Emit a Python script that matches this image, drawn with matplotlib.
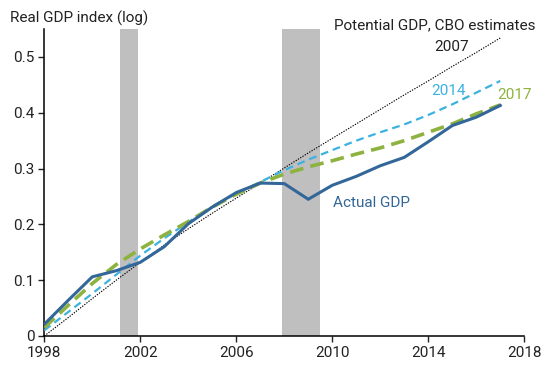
import matplotlib
matplotlib.use("Agg")
import matplotlib.pyplot as plt

plt.rcParams['font.family'] = ['Roboto', 'DejaVu Sans']

years = list(range(1998, 2018))
actual_gdp = [0.021, 0.064, 0.106, 0.117, 0.132, 0.160, 0.201, 0.231, 0.257, 0.274,
              0.273, 0.245, 0.270, 0.286, 0.305, 0.320, 0.348, 0.377, 0.392, 0.413]
cbo_2007 = [0.000, 0.033, 0.067, 0.100, 0.132, 0.163, 0.192, 0.220, 0.247, 0.274,
            0.301, 0.328, 0.354, 0.380, 0.406, 0.432, 0.457, 0.483, 0.508, 0.534]
cbo_2014 = [0.010, 0.043, 0.076, 0.110, 0.144, 0.175, 0.204, 0.231, 0.255, 0.276,
            0.297, 0.316, 0.333, 0.350, 0.365, 0.379, 0.396, 0.415, 0.436, 0.457]
cbo_2017 = [0.015, 0.055, 0.094, 0.128, 0.156, 0.181, 0.205, 0.231, 0.254, 0.274,
            0.290, 0.303, 0.314, 0.326, 0.337, 0.350, 0.365, 0.380, 0.398, 0.414]
recessions = [(2001.17, 2001.9), (2007.92, 2009.5)]
x_ticks = [1998, 2002, 2006, 2010, 2014, 2018]
y_ticks = [0, 0.1, 0.2, 0.3, 0.4, 0.5]
y_tick_labels = ["0", "0.1", "0.2", "0.3", "0.4", "0.5"]

c_actual = "#336699"
c_2014 = "#3BB2E0"
c_2017 = "#8DB23F"
c_band = "#BFBFBF"
c_text = "#222222"
fs = 11

fig = plt.figure(figsize=(5.5, 3.65), dpi=100)
ax = fig.add_axes([0.0805, 0.0795, 0.8727, 0.841])

for a, b in recessions:
    ax.axvspan(a, b, color=c_band, lw=0, zorder=0)

ax.plot(years, cbo_2007, color="black", lw=0.8, ls=(0, (1.2, 1.2)), zorder=2)
ax.plot(years, cbo_2014, color=c_2014, lw=1.6, ls=(0, (3.5, 2.2)), zorder=3)
ax.plot(years, cbo_2017, color=c_2017, lw=2.6, ls=(0, (3.8, 2.0)), zorder=4)
ax.plot(years, actual_gdp, color=c_actual, lw=2.2, zorder=5, solid_joinstyle='miter')

ax.set_xlim(1998, 2018)
ax.set_ylim(0, 0.55)
ax.set_xticks(x_ticks)
ax.set_yticks(y_ticks)
ax.set_yticklabels(y_tick_labels)
for s in ["top", "right"]:
    ax.spines[s].set_visible(False)
for s in ["left", "bottom"]:
    ax.spines[s].set_linewidth(1.1)
ax.tick_params(axis="both", length=4, width=1.0, labelsize=fs, colors=c_text, pad=3)

fig.text(10.5 / 550, 1 - 18 / 365, "Real GDP index (log)", fontsize=fs, color=c_text,
         ha="left", va="center")
ax.text(2018.45, 0.557, "Potential GDP, CBO estimates", fontsize=fs, color=c_text,
        ha="right", va="center", clip_on=False)
ax.text(2014.99, 0.518, "2007", fontsize=fs, color=c_text, ha="center", va="center")
ax.text(2014.84, 0.439, "2014", fontsize=fs, color=c_2014, ha="center", va="center")
ax.text(2017.59, 0.432, "2017", fontsize=fs, color=c_2017, ha="center", va="center",
        clip_on=False)
ax.text(2010.03, 0.2375, "Actual GDP", fontsize=fs, color=c_actual, ha="left", va="center")

fig.savefig("out.png", dpi=100)
